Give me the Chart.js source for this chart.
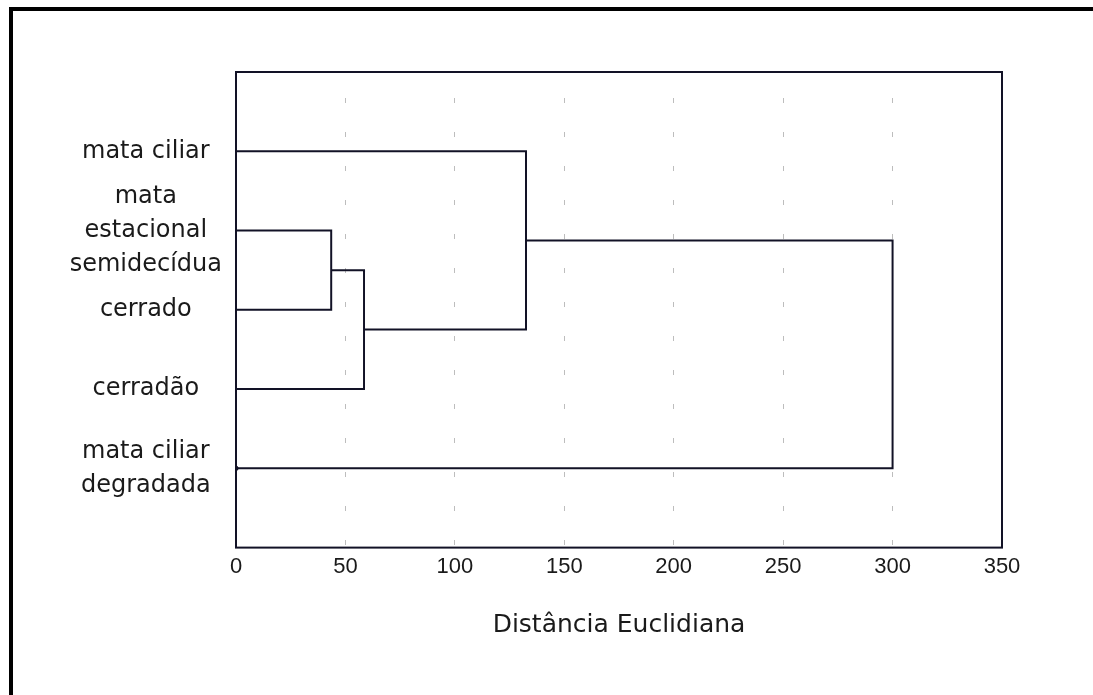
<!DOCTYPE html>
<html>
<head>
<meta charset="utf-8">
<script src="https://cdn.jsdelivr.net/npm/chart.js@4"></script>
<style>
    html, body { margin: 0; padding: 0; background: #fff; overflow: hidden; }
    #wrap { position: absolute; left: 0; top: 0; width: 1093px; height: 695px; }
    #frame {
        position: absolute; left: 9px; top: 7px; width: 1100px; height: 700px;
        border-top: 4px solid #000; border-left: 4px solid #000; pointer-events: none;
    }
</style>
</head>
<body>
<div id="wrap"><canvas id="dendro" width="1093" height="695"></canvas></div>
<div id="frame"></div>
<script>
// leaves, top to bottom
const leafLabels = [
    ['mata ciliar'],
    ['mata', 'estacional', 'semidecídua'],
    ['cerrado'],
    ['cerradão'],
    ['mata ciliar', 'degradada'],
];
// linkage: node ids 0-4 are leaves, merges get ids 5, 6, 7, 8
const mergeLeft = [1, 5, 0, 7];
const mergeRight = [2, 3, 6, 4];
const mergeDistance = [43.5, 58.5, 132.5, 300];
const xTicks = [0, 50, 100, 150, 200, 250, 300, 350];

const lineColor = '#121226';

const nodeX = leafLabels.map(() => 0);
const nodeY = leafLabels.map((_, i) => i + 1);
mergeDistance.forEach((d, k) => {
    const l = mergeLeft[k];
    const r = mergeRight[k];
    nodeX.push(d);
    nodeY.push((nodeY[l] + nodeY[r]) / 2);
});

const datasets = mergeDistance.map((d, k) => {
    const l = mergeLeft[k];
    const r = mergeRight[k];
    return {
        data: [
            { x: nodeX[l], y: nodeY[l] },
            { x: d, y: nodeY[l] },
            { x: d, y: nodeY[r] },
            { x: nodeX[r], y: nodeY[r] },
        ],
        showLine: true,
        borderColor: lineColor,
        borderWidth: 2,
        pointRadius: 0,
        tension: 0,
    };
});

// small marker at the start of the last leaf
datasets.push({
    data: [{ x: 0, y: leafLabels.length }],
    pointRadius: 2.5,
    pointBackgroundColor: lineColor,
    pointBorderWidth: 0,
});

const plotFrame = {
    id: 'plotFrame',
    afterDatasetsDraw(chart) {
        const { ctx, chartArea: a } = chart;
        ctx.save();
        ctx.strokeStyle = lineColor;
        ctx.lineWidth = 2;
        ctx.strokeRect(a.left, a.top, a.right - a.left, a.bottom - a.top);
        ctx.restore();
    },
};

new Chart(document.getElementById('dendro'), {
    type: 'scatter',
    data: { datasets },
    options: {
        responsive: false,
        animation: false,
        layout: { padding: { top: 72, right: 91, bottom: 55, left: 0 } },
        plugins: { legend: { display: false }, tooltip: { enabled: false } },
        scales: {
            x: {
                type: 'linear',
                min: 0,
                max: 350,
                afterBuildTicks: (scale) => {
                    scale.ticks = xTicks.map((v) => ({ value: v }));
                },
                border: { display: false, dash: [5, 29], dashOffset: 8 },
                grid: {
                    color: '#bdbdbd',
                    lineWidth: 1,
                    drawTicks: false,
                },
                ticks: {
                    padding: 6,
                    color: '#1a1a1a',
                    font: { family: "'Liberation Sans', Arial, sans-serif", size: 22 },
                },
                title: {
                    display: true,
                    text: 'Distância Euclidiana',
                    color: '#1a1a1a',
                    font: { family: "'DejaVu Sans', sans-serif", size: 25 },
                    padding: { top: 24, bottom: 0 },
                },
            },
            y: {
                type: 'linear',
                min: 0,
                max: leafLabels.length + 1,
                reverse: true,
                afterBuildTicks: (scale) => {
                    scale.ticks = leafLabels.map((_, i) => ({ value: i + 1 }));
                },
                afterFit: (scale) => {
                    scale.width = 236;
                },
                border: { display: false },
                grid: { display: false },
                ticks: {
                    crossAlign: 'center',
                    padding: 6,
                    color: '#1a1a1a',
                    font: { family: "'DejaVu Sans', sans-serif", size: 24, lineHeight: 1.42 },
                    callback: (v) => leafLabels[v - 1],
                },
            },
        },
    },
    plugins: [plotFrame],
});
</script>
</body>
</html>
